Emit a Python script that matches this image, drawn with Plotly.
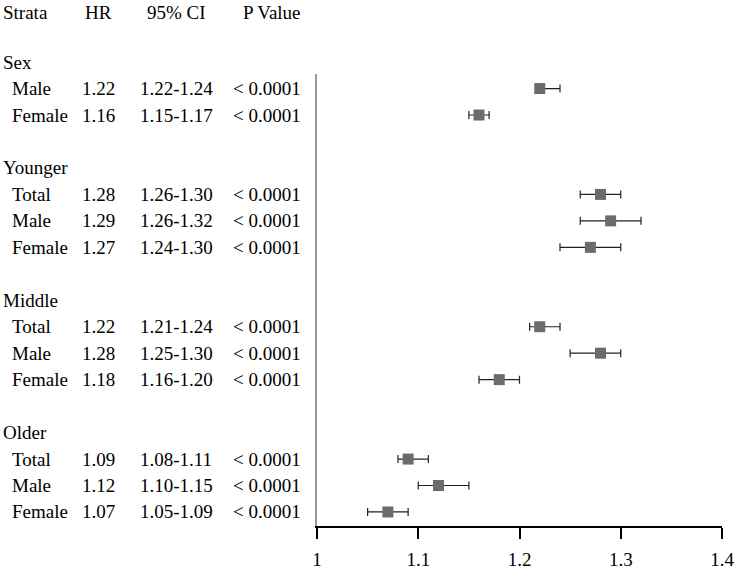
import plotly.graph_objects as go

# rows of the forest plot, top to bottom
groups = ["Sex", "Younger", "Middle", "Older"]
subgroups = [
    ["Male", "Female"],
    ["Total", "Male", "Female"],
    ["Total", "Male", "Female"],
    ["Total", "Male", "Female"],
]
hr = [
    [1.22, 1.16],
    [1.28, 1.29, 1.27],
    [1.22, 1.28, 1.18],
    [1.09, 1.12, 1.07],
]
ci_low = [
    [1.22, 1.15],
    [1.26, 1.26, 1.24],
    [1.21, 1.25, 1.16],
    [1.08, 1.10, 1.05],
]
ci_high = [
    [1.24, 1.17],
    [1.30, 1.32, 1.30],
    [1.24, 1.30, 1.20],
    [1.11, 1.15, 1.09],
]
p_values = "< 0.0001"
headers = ["Strata", "HR", "95% CI", "P Value"]
x_ticks = [1, 1.1, 1.2, 1.3, 1.4]

FONT = "Liberation Serif, Times New Roman, serif"
FS = 19

Y_TOP, Y_BOT = 0.45, 17.53  # y-axis range in row units


# paper x positions of the text columns (left of the plot area)
def px(p):
    return (p - 317) / 405.0


def py(r):
    return 1 - (r - Y_TOP) / (Y_BOT - Y_TOP)


# annotation boxes carry ~3px of padding, so left/right columns are nudged
col_label, col_sub, col_hr, col_ci, col_p = px(1), px(10), px(98), px(176), px(303)

ys, xs, lo, hi = [], [], [], []
annotations = []


def add_text(text, x, r, anchor):
    annotations.append(dict(
        text=text, x=x, y=py(r), xref="paper", yref="paper", xanchor=anchor,
        yanchor="middle", showarrow=False, font=dict(family=FONT, size=FS, color="black"),
    ))


row = 0
for g, subs, h, l, u in zip(groups, subgroups, hr, ci_low, ci_high):
    add_text(g, col_label, row, "left")
    row += 1
    for s, hv, lv, uv in zip(subs, h, l, u):
        add_text(s, col_sub, row, "left")
        add_text(f"{hv:.2f}", col_hr, row, "center")
        add_text(f"{lv:.2f}-{uv:.2f}", col_ci, row, "center")
        add_text(p_values, col_p, row, "right")
        ys.append(row)
        xs.append(hv)
        lo.append(hv - lv)
        hi.append(uv - hv)
        row += 1
    row += 1

# header row
header_y = -1.88
add_text(headers[0], col_label, header_y, "left")
add_text(headers[1], col_hr, header_y, "center")
add_text(headers[2], col_ci, header_y, "center")
add_text(headers[3], col_p, header_y, "right")

fig = go.Figure()
fig.add_trace(go.Scatter(
    x=xs, y=ys, mode="markers",
    marker=dict(symbol="square", size=11, color="#6b6b6b"),
    error_x=dict(type="data", symmetric=False, array=hi, arrayminus=lo,
                 color="#222222", thickness=1.2, width=4),
    showlegend=False, cliponaxis=False,
))

fig.update_layout(
    width=736, height=570,
    margin=dict(l=317, r=14, t=74, b=44),
    paper_bgcolor="white", plot_bgcolor="white",
    font=dict(family=FONT, size=FS, color="black"),
    annotations=annotations,
    xaxis=dict(
        range=[1, 1.4], tickvals=x_ticks, ticktext=[str(t) for t in x_ticks],
        showline=True, linecolor="black", linewidth=1.5,
        ticks="outside", ticklen=11, tickwidth=1.5, tickcolor="black",
        showgrid=False, zeroline=False, ticklabelstandoff=4, automargin=False,
    ),
    yaxis=dict(
        range=[Y_BOT, Y_TOP], showline=True, linecolor="#999999", linewidth=2,
        showticklabels=False, ticks="", showgrid=False, zeroline=False,
        automargin=False,
    ),
)

# drop the default page margin so the 736x570 figure fills the window
fig.write_html("out.html", config={"displayModeBar": False},
               post_script="document.body.style.margin='0';")
